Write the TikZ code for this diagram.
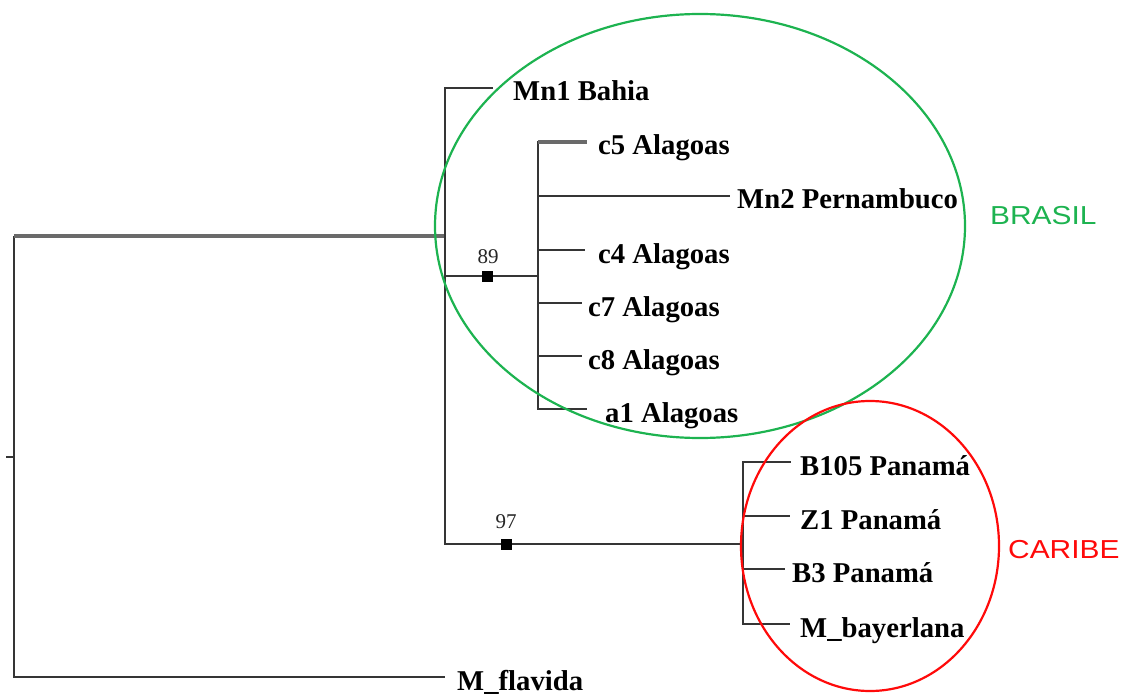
\documentclass[tikz,border=0pt]{standalone}
\usepackage{fontspec}
\setmainfont{Liberation Serif}
\newfontfamily\cladefont{Liberation Sans}[FakeStretch=1.15]
\definecolor{branchgray}{HTML}{353535}
\definecolor{trunkgray}{HTML}{6A6A6A}
\definecolor{brasilgreen}{HTML}{1DB350}
\definecolor{caribered}{HTML}{FF0A0A}
\begin{document}
\begin{tikzpicture}[x=1pt,y=-1pt,
  branch/.style={draw=branchgray, line width=2.9pt},
  trunk/.style={draw=trunkgray, line width=3.8pt},
  taxon/.style={anchor=base west, inner sep=0pt, font=\bfseries\fontsize{28.7}{30}\selectfont},
  support/.style={anchor=base, inner sep=0pt, font=\fontsize{21}{23}\selectfont, text=black!85},
  sqr/.style={fill=black, minimum size=11pt, inner sep=0pt},
  clade/.style={line width=2.2pt},
  cladelabel/.style={anchor=base west, inner sep=0pt, font=\cladefont\fontsize{26}{28}\selectfont}]
\useasboundingbox (0,0) rectangle (1127,695);

% internal nodes
\coordinate (stem) at (6,457);
\coordinate (root) at (14,457);
\coordinate (top) at (445,236);
\coordinate (c89) at (538,276);
\coordinate (c97) at (743,544);

% branch tips
\coordinate (tMnA) at (493,88);
\coordinate (tcA) at (587,142);
\coordinate (tMnB) at (730,196);
\coordinate (tcB) at (585,250);
\coordinate (tcC) at (582,303);
\coordinate (tcD) at (582,356);
\coordinate (taA) at (587,409);
\coordinate (tBA) at (791,462);
\coordinate (tZA) at (790,516);
\coordinate (tBB) at (785,569);
\coordinate (tMb) at (790,624);
\coordinate (tMf) at (445,677);

% taxon names
\node[taxon] (MnA) at (513,101) {Mn1 Bahia};
\node[taxon] (cA) at (598,155) {c5 Alagoas};
\node[taxon] (MnB) at (737,209) {Mn2 Pernambuco};
\node[taxon] (cB) at (598,263) {c4 Alagoas};
\node[taxon] (cC) at (588,316) {c7 Alagoas};
\node[taxon] (cD) at (588,369) {c8 Alagoas};
\node[taxon] (aA) at (605,422) {a1 Alagoas};
\node[taxon] (BA) at (800,475) {B105 Panamá};
\node[taxon] (ZA) at (800,529) {Z1 Panamá};
\node[taxon] (BB) at (792,582) {B3 Panamá};
\node[taxon] (Mb) at (800,637) {M\_bayerlana};
\node[taxon] (Mf) at (457,690) {M\_flavida};

% root
\draw[branch] (stem) -- (root);
\draw[branch] (root |- top) |- (tMf);
\draw[trunk] (root |- top) -- (top);

% main ingroup
\draw[branch] (top) |- (tMnA);
\draw[branch] (top) |- (c89);
\draw[branch] (top) |- (c97);

% clade 89
\draw[branch] (c89) |- (tcA);
\draw[trunk, line width=3.6pt] (c89 |- tcA) -- (tcA);
\draw[branch] (c89) |- (tMnB);
\draw[branch] (c89) |- (tcB);
\draw[branch] (c89) |- (tcC);
\draw[branch] (c89) |- (tcD);
\draw[branch] (c89) |- (taA);

% clade 97
\draw[branch] (c97) |- (tBA);
\draw[branch] (c97) |- (tZA);
\draw[branch] (c97) |- (tBB);
\draw[branch] (c97) |- (tMb);

% bootstrap support
\node[sqr] (s89) at (487,276) {};
\node[support] (l89) at (488,263) {89};
\node[sqr] (s97) at (506,544) {};
\node[support] (l97) at (506,528) {97};

% geographic groups
\draw[clade, brasilgreen] (700,226) ellipse [x radius=265, y radius=212];
\draw[clade, caribered] (870,546) ellipse [x radius=129, y radius=145];
\node[cladelabel, text=brasilgreen] (brasil) at (990,225) {BRASIL};
\node[cladelabel, text=caribered] (caribe) at (1008,558) {CARIBE};
\end{tikzpicture}
\end{document}
